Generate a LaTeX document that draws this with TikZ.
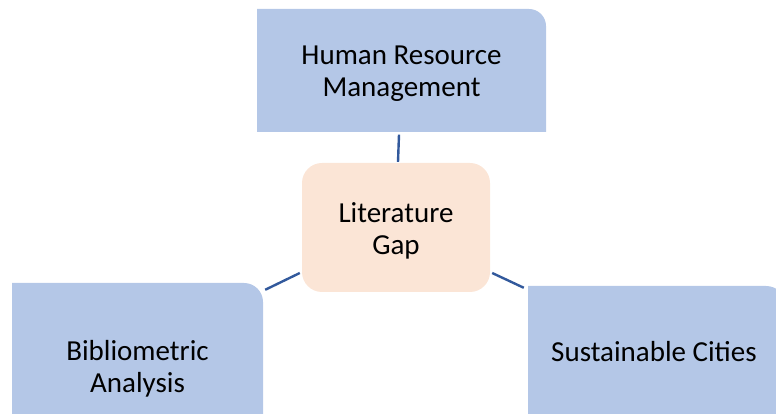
\documentclass[tikz,border=0pt]{standalone}
\usepackage{fontspec}
\setmainfont{Carlito}
\usetikzlibrary{calc}
\definecolor{boxblue}{HTML}{B4C7E7}
\definecolor{gappeach}{HTML}{FBE5D6}
\definecolor{linkblue}{HTML}{32599C}
\begin{document}
\begin{tikzpicture}[x=1pt,y=1pt,
  boxtext/.style={inner sep=0pt, align=center, text=black,
    font=\fontsize{29}{32.5}\selectfont},
  topicfill/.style={fill=boxblue},
  link/.style={draw=linkblue, line width=2.4pt}]
\useasboundingbox (0,0) rectangle (776,414);
\clip (0,0) rectangle (776,414);

% blue topic boxes, rounded only at the top right corner
\fill[topicfill] (257,282) -- (257,405) -- (529,405)
  arc[start angle=90, end angle=0, radius=17pt] -- (546,282) -- cycle;
\fill[topicfill] (12,-40) -- (12,131) -- (244,131)
  arc[start angle=90, end angle=0, radius=19pt] -- (263,-40) -- cycle;
\fill[topicfill] (528,-40) -- (528,128) -- (766,128)
  arc[start angle=90, end angle=0, radius=20pt] -- (786,-40) -- cycle;
% central box, rounded all round
\fill[gappeach, rounded corners=20pt] (302,122) rectangle (490,251);

% nodes
\node[boxtext, minimum width=289, minimum height=117] (hrm) at (401.5,340.5)
  {Human Resource\\Management};
\node[boxtext, minimum width=188, minimum height=129] (lit) at (396,183)
  {Literature\\Gap};
\node[boxtext, minimum width=251, minimum height=166] (bib) at (137.5,45)
  {Bibliometric\\Analysis};
\node[boxtext, minimum width=252, minimum height=132] (sus) at (654,62)
  {Sustainable Cities};

% connectors
\draw[link] ($(hrm.south)+(-2.5,-2.5)$) -- ($(lit.north)+(2,4.5)$);
\draw[link] ($(lit.west)+(-2,-42)$) -- ($(bib.north east)+(2,-4)$);
\draw[link] ($(lit.east)+(2,-42)$) -- ($(sus.north west)+(-4,-2)$);
\end{tikzpicture}
\end{document}
